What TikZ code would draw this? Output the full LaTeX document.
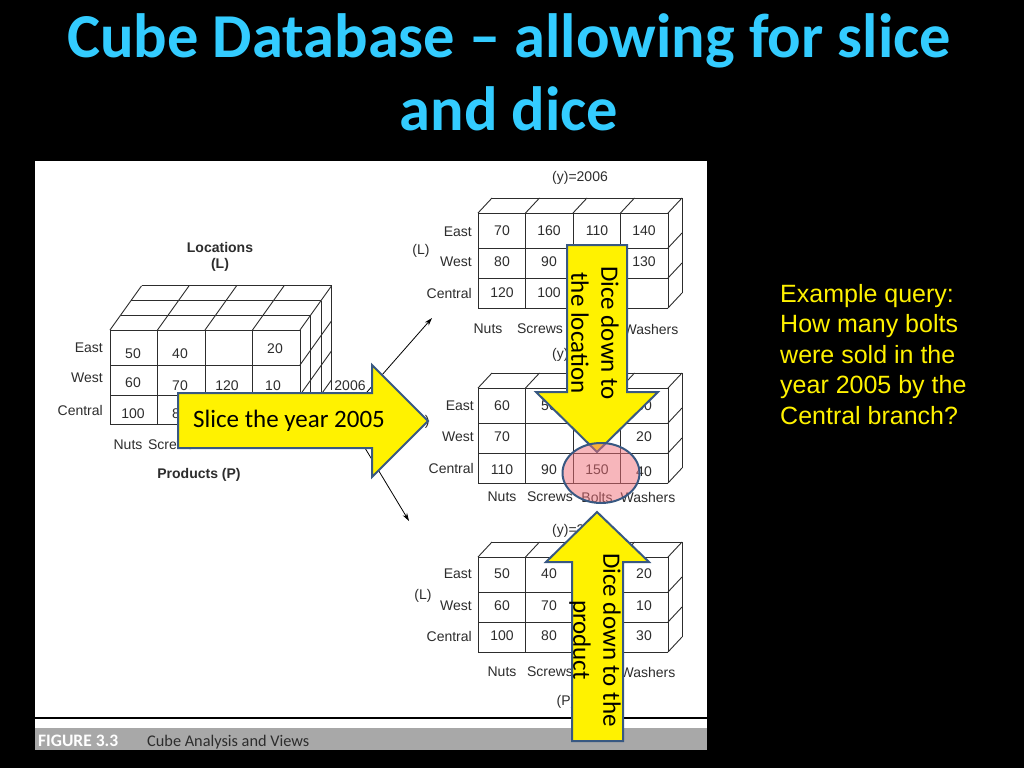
\documentclass[tikz,border=0pt]{standalone}
\usepackage{fontspec}
\setmainfont{Liberation Sans}
\newfontfamily\calfont{Carlito}
\usetikzlibrary{arrows.meta}
\definecolor{titlec}{RGB}{51,204,255}
\definecolor{ink}{RGB}{45,45,45}
\definecolor{arrowbd}{RGB}{56,88,130}
\definecolor{capgray}{RGB}{168,168,168}
\definecolor{pinkfill}{RGB}{240,110,120}
\begin{document}
\begin{tikzpicture}[x=1pt,y=-1pt,
  title/.style={font=\calfont\bfseries\fontsize{62.5}{70}\selectfont, text=titlec, anchor=base},
  fig/.style={font=\fontsize{14}{16}\selectfont, text=ink, inner sep=0pt},
  figb/.style={fig, font=\bfseries\fontsize{14}{16}\selectfont},
  lab/.style={fig, anchor=east},
  grid/.style={draw=ink, line width=0.9pt},
  yarrow/.style={fill=yellow, draw=arrowbd, line width=2pt, line join=miter},
  atext/.style={font=\calfont\fontsize{25}{30}\selectfont, text=black, align=center, inner sep=0pt},
  query/.style={font=\fontsize{25}{30.5}\selectfont, text=yellow, align=left, anchor=north west, inner sep=0pt},
  link/.style={draw=black, line width=0.8pt, -{Stealth[length=8pt,width=5pt]}}]
\fill[black] (0,0) rectangle (1024,768);
\useasboundingbox (0,0) rectangle (1024,768);
% title
\node[title] (t1) at (509,57) {Cube Database – allowing for slice};
\node[title] (t2) at (509,130) {and dice};
% panel
\fill[white] (35,161) rectangle (707,750);
\draw[black, line width=1.6pt] (35,718) -- (707,718);
\fill[capgray] (35,728) rectangle (707,750);
\node[font=\calfont\bfseries\fontsize{17.5}{18}\selectfont, text=white, anchor=base west, inner sep=0pt] (cap1) at (38,746) {FIGURE 3.3};
\node[font=\calfont\fontsize{16.3}{18}\selectfont, text=ink, anchor=base west, inner sep=0pt] (cap2) at (147,746) {Cube Analysis and Views};
% ---------- left cube ----------
\foreach \x in {110,157.5,205,252.5,300} \draw[grid] (\x,330) -- (\x,424);
\foreach \y in {330,365,395,424} \draw[grid] (110,\y) -- (300,\y);
\foreach \k in {1,2,3} \draw[grid] ({110+10.5*\k},{330-14.7*\k}) -- ({300+10.5*\k},{330-14.7*\k});
\foreach \x in {110,157.5,205,252.5,300} \draw[grid] (\x,330) -- ++(31.5,-44.1);
\foreach \k in {1,2,3} \draw[grid] ({300+10.5*\k},{330-14.7*\k}) -- ({300+10.5*\k},{434-14.7*\k});
\foreach \y in {365,395,424} \draw[grid] (300,\y) -- ++(31.5,-44.1);
\node[figb] (loc) at (220,247) {Locations};
\node[figb] (locl) at (220,265) {(L)};
\node[figb] (prod) at (199,475) {Products (P)};
\node[lab] (le) at (103,348) {East};
\node[lab] (lw) at (103,378) {West};
\node[lab] (lc) at (103,410) {Central};
\node[fig] at (133,354) {50};
\node[fig] at (180,354) {40};
\node[fig] at (275,349) {20};
\node[fig] at (133,383) {60};
\node[fig] at (180,386) {70};
\node[fig] at (227,386) {120};
\node[fig] at (273,386) {10};
\node[fig] at (133,414) {100};
\node[fig] at (180,414) {80};
\node[fig] at (128,445) {Nuts};
\node[fig] at (171,445) {Screws};
\node[fig] (y6) at (350,386) {2006};
% ---------- right tables ----------
\foreach \t in {213,388,557}{
  \foreach \x in {478,525.5,573,620.5,668} \draw[grid] (\x,\t) -- (\x,\t+95);
  \foreach \d in {0,35,65,95} \draw[grid] (478,\t+\d) -- (668,\t+\d);
  \draw[grid] (492,\t-15) -- (682,\t-15) -- (682,\t+80);
  \foreach \x in {478,525.5,573,620.5,668} \draw[grid] (\x,\t) -- ++(14,-15);
  \foreach \d in {35,65,95} \draw[grid] (668,\t+\d) -- ++(14,-15);
}
% top table
\node[fig] (ya) at (580,178) {(y)=2006};
\node[fig] (la) at (421,251) {(L)};
\node[lab] at (472,232) {East};
\node[lab] at (472,262) {West};
\node[lab] at (472,293) {Central};
\node[fig] at (502,231) {70};
\node[fig] at (549,231) {160};
\node[fig] at (597,231) {110};
\node[fig] at (644,231) {140};
\node[fig] at (502,262) {80};
\node[fig] at (549,262) {90};
\node[fig] at (644,262) {130};
\node[fig] at (502,293) {120};
\node[fig] at (549,293) {100};
\node[fig] at (488,329) {Nuts};
\node[fig] at (540,329) {Screws};
\node[fig] at (651,329) {Washers};
% middle table
\node[fig] (yb) at (580,355) {(y)=2005};
\node[fig] (lb) at (421,422) {(L)};
\node[lab] at (474,406) {East};
\node[lab] at (474,437) {West};
\node[lab] at (474,468) {Central};
\node[fig] at (502,406) {60};
\node[fig] at (549,406) {50};
\node[fig] at (644,406) {30};
\node[fig] at (502,437) {70};
\node[fig] at (644,437) {20};
\node[fig] at (502,470) {110};
\node[fig] at (549,470) {90};
\node[fig] (v150) at (597,470) {150};
\node[fig] at (644,472) {40};
\node[fig] at (502,497) {Nuts};
\node[fig] at (550,497) {Screws};
\node[fig] at (597,497) {Bolts};
\node[fig] at (648,497) {Washers};
% bottom table
\node[fig] (yc) at (580,531) {(y)=2004};
\node[fig] (lc2) at (423,596) {(L)};
\node[lab] at (472,574) {East};
\node[lab] at (472,606) {West};
\node[lab] at (472,636) {Central};
\node[fig] at (502,574) {50};
\node[fig] at (549,574) {40};
\node[fig] at (644,574) {20};
\node[fig] at (502,606) {60};
\node[fig] at (549,606) {70};
\node[fig] at (644,606) {10};
\node[fig] at (502,636) {100};
\node[fig] at (549,636) {80};
\node[fig] at (644,636) {30};
\node[fig] at (502,672) {Nuts};
\node[fig] at (550,672) {Screws};
\node[fig] at (648,672) {Washers};
\node[fig] (pp) at (566,702) {(P)};
% diagonal links
\coordinate (c1) at (360,400);
\coordinate (e1) at (432,318);
\coordinate (c2) at (365,448);
\coordinate (e2) at (409,521);
\draw[link] (c1) -- (e1);
\draw[link] (c2) -- (e2);
% ---------- yellow arrows ----------
\draw[yarrow] (178,393) -- (372,393) -- (372,365) -- (428,421) -- (372,477) -- (372,448) -- (178,448) -- cycle;
\node[atext] (slice) at (289,421) {Slice the year 2005};
\draw[yarrow] (567,245) -- (627,245) -- (627,392) -- (658,392) -- (597,452) -- (536,392) -- (567,392) -- cycle;
\node[atext, rotate=-90] (dloc) at (595,333) {Dice down to\\the location};
\draw[arrowbd, line width=2pt, fill=pinkfill, fill opacity=0.5] (601,473) ellipse [x radius=38.5, y radius=30];
\draw[yarrow] (597,512) -- (649,562) -- (623,562) -- (623,741) -- (572,741) -- (572,562) -- (546,562) -- cycle;
\node[atext, rotate=-90] (dprod) at (595,640) {Dice down to the\\product};
% query text
\node[query] (q) at (780,284) {Example query:\\How many bolts\\were sold in the\\year 2005 by the\\Central branch?};
\end{tikzpicture}
\end{document}
